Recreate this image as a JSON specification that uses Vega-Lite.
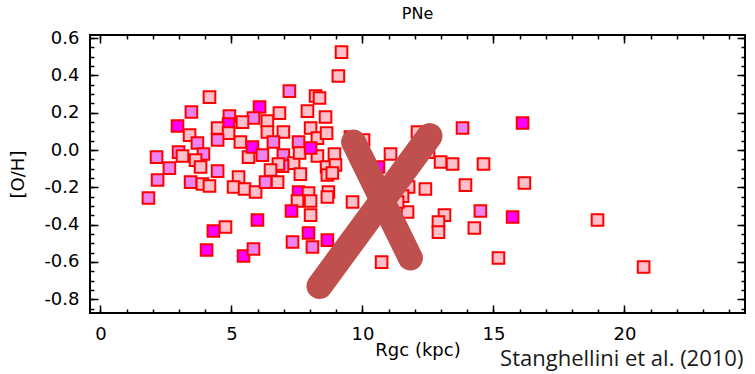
{
  "$schema": "https://vega.github.io/schema/vega-lite/v6.json",
  "width": 655,
  "height": 278,
  "autosize": {"type": "none"},
  "padding": {"left": 90, "top": 35, "right": 10, "bottom": 61},
  "title": {"text": "PNe", "font": "DejaVu Sans", "fontSize": 16, "fontWeight": "normal", "color": "black", "offset": 7},
  "config": {
    "view": {"stroke": "black", "strokeWidth": 2},
    "axis": {"domain": false, "grid": false, "tickColor": "black", "tickWidth": 1.5, "labelFont": "DejaVu Sans", "labelFontSize": 18, "labelColor": "black", "titleFont": "DejaVu Sans", "titleFontSize": 18, "titleFontWeight": "normal", "titleColor": "black"}
  },
  "datasets": {
    "pts": [
      {"r": 9.20, "oh": 0.525, "c": "p"}, {"r": 9.08, "oh": 0.397, "c": "p"}, {"r": 7.21, "oh": 0.316, "c": "v"},
      {"r": 8.21, "oh": 0.290, "c": "p"}, {"r": 8.36, "oh": 0.279, "c": "p"}, {"r": 4.16, "oh": 0.284, "c": "p"},
      {"r": 3.47, "oh": 0.204, "c": "v"}, {"r": 6.07, "oh": 0.231, "c": "m"}, {"r": 5.84, "oh": 0.172, "c": "v"},
      {"r": 6.83, "oh": 0.198, "c": "p"}, {"r": 7.90, "oh": 0.209, "c": "p"}, {"r": 8.59, "oh": 0.177, "c": "p"},
      {"r": 2.94, "oh": 0.129, "c": "m"}, {"r": 4.92, "oh": 0.182, "c": "v"}, {"r": 4.89, "oh": 0.139, "c": "m"},
      {"r": 5.42, "oh": 0.150, "c": "p"}, {"r": 4.47, "oh": 0.118, "c": "p"}, {"r": 4.89, "oh": 0.091, "c": "p"},
      {"r": 6.37, "oh": 0.155, "c": "p"}, {"r": 6.37, "oh": 0.097, "c": "p"}, {"r": 6.98, "oh": 0.097, "c": "p"},
      {"r": 8.02, "oh": 0.118, "c": "p"}, {"r": 3.40, "oh": 0.080, "c": "p"}, {"r": 4.47, "oh": 0.054, "c": "v"},
      {"r": 3.70, "oh": 0.038, "c": "v"}, {"r": 5.34, "oh": 0.043, "c": "p"}, {"r": 6.60, "oh": 0.043, "c": "v"},
      {"r": 7.56, "oh": 0.043, "c": "v"}, {"r": 8.28, "oh": 0.064, "c": "p"}, {"r": 8.63, "oh": 0.091, "c": "p"},
      {"r": 2.14, "oh": -0.038, "c": "v"}, {"r": 2.98, "oh": -0.011, "c": "v"}, {"r": 3.13, "oh": -0.032, "c": "p"},
      {"r": 3.93, "oh": -0.021, "c": "v"}, {"r": 5.65, "oh": -0.038, "c": "p"}, {"r": 5.80, "oh": 0.016, "c": "m"},
      {"r": 6.18, "oh": -0.027, "c": "v"}, {"r": 6.98, "oh": -0.027, "c": "v"},
      {"r": 7.37, "oh": -0.070, "c": "p"}, {"r": 7.60, "oh": -0.016, "c": "p"}, {"r": 8.28, "oh": -0.032, "c": "p"},
      {"r": 8.93, "oh": -0.021, "c": "p"}, {"r": 7.63, "oh": -0.129, "c": "p"}, {"r": 8.63, "oh": -0.091, "c": "p"},
      {"r": 8.66, "oh": -0.134, "c": "p"}, {"r": 6.95, "oh": -0.086, "c": "v"}, {"r": 6.79, "oh": -0.075, "c": "p"},
      {"r": 6.49, "oh": -0.107, "c": "p"}, {"r": 5.27, "oh": -0.145, "c": "p"}, {"r": 2.18, "oh": -0.161, "c": "v"},
      {"r": 2.63, "oh": -0.097, "c": "v"}, {"r": 3.63, "oh": -0.054, "c": "p"}, {"r": 3.82, "oh": -0.091, "c": "p"},
      {"r": 4.47, "oh": -0.113, "c": "v"}, {"r": 3.44, "oh": -0.172, "c": "v"}, {"r": 3.89, "oh": -0.182, "c": "p"},
      {"r": 4.16, "oh": -0.193, "c": "p"}, {"r": 5.08, "oh": -0.198, "c": "p"}, {"r": 5.50, "oh": -0.209, "c": "p"},
      {"r": 5.92, "oh": -0.225, "c": "p"}, {"r": 6.30, "oh": -0.172, "c": "v"}, {"r": 6.76, "oh": -0.172, "c": "p"},
      {"r": 7.56, "oh": -0.225, "c": "m"}, {"r": 7.94, "oh": -0.231, "c": "p"}, {"r": 7.52, "oh": -0.273, "c": "p"},
      {"r": 8.02, "oh": -0.273, "c": "p"}, {"r": 8.70, "oh": -0.225, "c": "p"}, {"r": 8.66, "oh": -0.252, "c": "p"},
      {"r": 9.62, "oh": -0.279, "c": "p"}, {"r": 7.29, "oh": -0.327, "c": "m"}, {"r": 8.02, "oh": -0.349, "c": "p"},
      {"r": 4.77, "oh": -0.413, "c": "p"}, {"r": 4.31, "oh": -0.434, "c": "m"}, {"r": 5.99, "oh": -0.375, "c": "m"},
      {"r": 7.94, "oh": -0.445, "c": "m"}, {"r": 7.33, "oh": -0.493, "c": "v"}, {"r": 4.05, "oh": -0.536, "c": "m"},
      {"r": 5.46, "oh": -0.568, "c": "m"}, {"r": 5.84, "oh": -0.531, "c": "v"}, {"r": 8.09, "oh": -0.520, "c": "v"},
      {"r": 8.66, "oh": -0.483, "c": "m"}, {"r": 10.73, "oh": -0.601, "c": "p"}, {"r": 1.83, "oh": -0.257, "c": "v"},
      {"r": 11.76, "oh": -0.198, "c": "p"}, {"r": 12.40, "oh": -0.209, "c": "p"}, {"r": 13.93, "oh": -0.188, "c": "p"},
      {"r": 16.18, "oh": -0.177, "c": "p"}, {"r": 11.72, "oh": -0.332, "c": "p"}, {"r": 11.53, "oh": -0.247, "c": "p"},
      {"r": 11.34, "oh": -0.279, "c": "p"}, {"r": 13.13, "oh": -0.349, "c": "p"}, {"r": 12.90, "oh": -0.386, "c": "p"},
      {"r": 12.90, "oh": -0.440, "c": "p"}, {"r": 14.50, "oh": -0.327, "c": "v"}, {"r": 14.27, "oh": -0.418, "c": "p"},
      {"r": 15.73, "oh": -0.359, "c": "m"}, {"r": 15.19, "oh": -0.579, "c": "p"}, {"r": 18.97, "oh": -0.375, "c": "p"},
      {"r": 20.73, "oh": -0.627, "c": "p"}, {"r": 13.82, "oh": 0.118, "c": "v"}, {"r": 16.11, "oh": 0.145, "c": "m"},
      {"r": 11.07, "oh": -0.021, "c": "p"}, {"r": 12.10, "oh": 0.097, "c": "p"}, {"r": 12.52, "oh": -0.011, "c": "p"},
      {"r": 12.98, "oh": -0.064, "c": "p"}, {"r": 13.44, "oh": -0.075, "c": "p"}, {"r": 14.62, "oh": -0.075, "c": "p"},
      {"r": 10.61, "oh": -0.091, "c": "m"}, {"r": 10.04, "oh": 0.054, "c": "p"}, {"r": 9.54, "oh": 0.070, "c": "p"},
      {"r": 8.97, "oh": -0.080, "c": "p"}, {"r": 8.85, "oh": -0.123, "c": "p"}, {"r": 8.02, "oh": 0.011, "c": "m"}
    ],
    "cross": [
      {"s": 1, "o": 0, "r": 9.66, "oh": 0.043}, {"s": 1, "o": 1, "r": 11.83, "oh": -0.579},
      {"s": 2, "o": 0, "r": 8.36, "oh": -0.729}, {"s": 2, "o": 1, "r": 12.56, "oh": 0.075}
    ],
    "note": [{"r": 24.54, "oh": -1.158, "t": "Stanghellini et al. (2010)"}]
  },
  "resolve": {"axis": {"x": "independent", "y": "independent"}},
  "layer": [
    {
      "data": {"name": "pts"},
      "mark": {"type": "square", "filled": true, "size": 135, "stroke": "#FF0000", "strokeWidth": 2, "opacity": 1},
      "encoding": {
        "x": {"field": "r", "type": "quantitative", "scale": {"domain": [-0.4, 24.6], "nice": false, "zero": false},
              "axis": {"orient": "bottom", "values": [0, 5, 10, 15, 20], "tickSize": -8, "labelPadding": 20, "title": "Rgc (kpc)", "titlePadding": -2}},
        "y": {"field": "oh", "type": "quantitative", "scale": {"domain": [-0.874, 0.617], "nice": false, "zero": false},
              "axis": {"orient": "left", "values": [-0.8, -0.6, -0.4, -0.2, 0, 0.2, 0.4, 0.6], "labelExpr": "replace(format(datum.value, '.1f'), '\u2212', '-')", "tickSize": -8, "labelPadding": 19, "title": "[O/H]", "titlePadding": 16}},
        "fill": {"field": "c", "type": "nominal", "scale": {"domain": ["p", "v", "m"], "range": ["#FFC0CB", "#EE82EE", "#FF00FF"]}, "legend": null}
      }
    },
    {
      "data": {"name": "cross"},
      "transform": [{"filter": "datum.s == 1"}],
      "mark": {"type": "line", "color": "#C0504D", "strokeWidth": 25, "strokeCap": "round"},
      "encoding": {
        "x": {"field": "r", "type": "quantitative", "scale": {"domain": [-0.4, 24.6], "nice": false, "zero": false},
              "axis": {"orient": "bottom", "values": [0,1,2,3,4,5,6,7,8,9,10,11,12,13,14,15,16,17,18,19,20,21,22,23,24], "tickSize": -4, "labels": false, "title": null}},
        "y": {"field": "oh", "type": "quantitative", "scale": {"domain": [-0.874, 0.617], "nice": false, "zero": false},
              "axis": {"orient": "left", "values": [-0.85,-0.8,-0.75,-0.7,-0.65,-0.6,-0.55,-0.5,-0.45,-0.4,-0.35,-0.3,-0.25,-0.2,-0.15,-0.1,-0.05,0,0.05,0.1,0.15,0.2,0.25,0.3,0.35,0.4,0.45,0.5,0.55,0.6], "tickSize": -4, "labels": false, "title": null}},
        "order": {"field": "o", "type": "quantitative"}
      }
    },
    {
      "data": {"name": "cross"},
      "transform": [{"filter": "datum.s == 2"}],
      "mark": {"type": "line", "color": "#C0504D", "strokeWidth": 26, "strokeCap": "round"},
      "encoding": {
        "x": {"field": "r", "type": "quantitative", "scale": {"domain": [-0.4, 24.6], "nice": false, "zero": false},
              "axis": {"orient": "top", "values": [0, 5, 10, 15, 20], "tickSize": -8, "labels": false, "title": null}},
        "y": {"field": "oh", "type": "quantitative", "scale": {"domain": [-0.874, 0.617], "nice": false, "zero": false},
              "axis": {"orient": "right", "values": [-0.8, -0.6, -0.4, -0.2, 0, 0.2, 0.4, 0.6], "tickSize": -8, "labels": false, "title": null}},
        "order": {"field": "o", "type": "quantitative"}
      }
    },
    {
      "data": {"name": "note"},
      "mark": {"type": "text", "align": "right", "baseline": "alphabetic", "font": "Open Sans", "fontSize": 22, "color": "#1a1a1a", "clip": false},
      "encoding": {
        "x": {"field": "r", "type": "quantitative", "scale": {"domain": [-0.4, 24.6], "nice": false, "zero": false},
              "axis": {"orient": "top", "values": [0,1,2,3,4,5,6,7,8,9,10,11,12,13,14,15,16,17,18,19,20,21,22,23,24], "tickSize": -4, "labels": false, "title": null}},
        "y": {"field": "oh", "type": "quantitative", "scale": {"domain": [-0.874, 0.617], "nice": false, "zero": false},
              "axis": {"orient": "right", "values": [-0.85,-0.8,-0.75,-0.7,-0.65,-0.6,-0.55,-0.5,-0.45,-0.4,-0.35,-0.3,-0.25,-0.2,-0.15,-0.1,-0.05,0,0.05,0.1,0.15,0.2,0.25,0.3,0.35,0.4,0.45,0.5,0.55,0.6], "tickSize": -4, "labels": false, "title": null}},
        "text": {"field": "t"}
      }
    }
  ]
}
